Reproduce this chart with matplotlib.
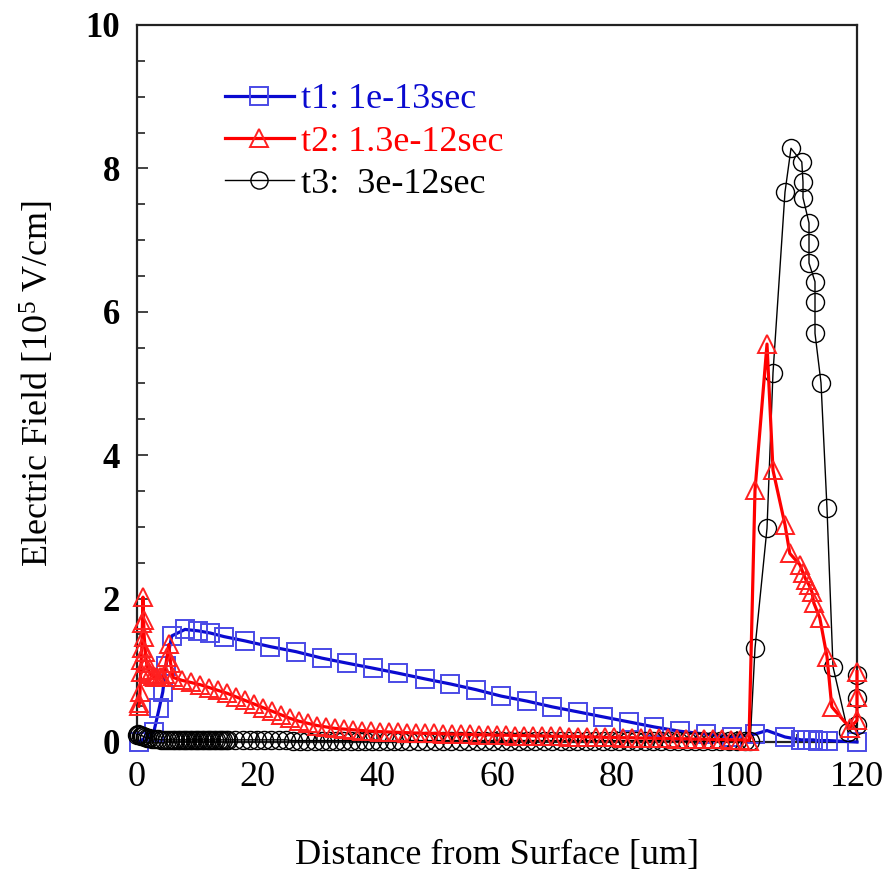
import matplotlib
matplotlib.use("Agg")
import matplotlib.pyplot as plt
from matplotlib.ticker import MultipleLocator

plt.rcParams['font.family'] = ['Liberation Serif', 'DejaVu Serif']
plt.rcParams['mathtext.fontset'] = 'custom'
plt.rcParams['mathtext.rm'] = 'Liberation Serif'
plt.rcParams['mathtext.it'] = 'Liberation Serif:italic'

# ---- data ----
labels = ["t1: 1e-13sec", "t2: 1.3e-12sec", "t3:  3e-12sec"]
xticks = [0, 20, 40, 60, 80, 100, 120]
yticks = [0, 2, 4, 6, 8, 10]

# t1 (blue squares)
x1 = [0.3, 2.8, 3.7, 4.3, 4.8, 5.8, 8.0, 10.2, 12.2, 14.5,
      18.0, 22.2, 26.5, 30.8, 35.0, 39.3, 43.5, 48.0, 52.2, 56.5,
      60.7, 65.0, 69.2, 73.5, 77.7, 82.0, 86.2, 90.5, 94.8, 99.2,
      103.0, 105.0, 108.0, 110.7, 111.7, 112.7, 113.5, 115.2, 120.0]
y1 = [0.00, 0.14, 0.47, 0.70, 1.06, 1.48, 1.57, 1.55, 1.52, 1.47,
      1.41, 1.33, 1.26, 1.17, 1.10, 1.03, 0.96, 0.88, 0.81, 0.73,
      0.64, 0.57, 0.49, 0.42, 0.35, 0.28, 0.21, 0.15, 0.11, 0.07,
      0.11, 0.16, 0.07, 0.03, 0.03, 0.03, 0.02, 0.02, 0.00]
t1_no_marker = [31]

# t2 (red triangles)
x2 = [0.3, 0.4, 0.5, 0.6, 0.7, 0.8, 0.9, 1.0, 1.1, 1.2,
      1.4, 1.6, 1.9, 2.2, 2.6, 3.0, 3.4, 3.8, 4.2, 4.6,
      5.0, 5.3, 5.6, 6.0,
      7.5, 9.0, 10.5, 12.0, 13.5, 15.0, 16.5, 18.0, 19.5, 21.0,
      22.5, 24.0, 25.5, 27.0, 28.5, 30.0, 31.5, 33.0, 34.5, 36.0,
      37.5, 39.0, 40.5, 42.0, 43.5, 45.0, 46.5, 48.0, 49.5, 51.0,
      52.5, 54.0, 55.5, 57.0, 58.5, 60.0, 61.5, 63.0, 64.5, 66.0,
      67.5, 69.0, 70.5, 72.0, 73.5, 75.0, 76.5, 78.0, 79.5, 81.0,
      82.5, 84.0, 85.5, 87.0, 88.5, 90.0, 91.5, 93.0, 94.5, 96.0,
      97.5, 99.0, 100.5, 102.0,
      103.0, 105.0, 106.0, 108.0, 108.8, 110.5, 111.0, 111.5, 112.0, 112.5,
      112.8, 113.8, 115.0, 115.8, 118.8, 120.0, 120.0, 120.0]
y2 = [0.50, 0.54, 0.70, 0.98, 1.14, 1.31, 1.66, 2.02, 1.70, 1.47,
      1.25, 1.10, 1.00, 0.95, 0.92, 0.91, 0.90, 0.90, 0.90, 0.95,
      1.19, 1.36, 1.10, 0.90,
      0.86, 0.83, 0.80, 0.76, 0.72, 0.68, 0.63, 0.58, 0.53, 0.48,
      0.43, 0.38, 0.33, 0.29, 0.26, 0.23, 0.21, 0.19, 0.18, 0.17,
      0.16, 0.15, 0.145, 0.14, 0.135, 0.13, 0.125, 0.12, 0.12, 0.115,
      0.11, 0.11, 0.105, 0.10, 0.10, 0.095, 0.095, 0.09, 0.09, 0.085,
      0.085, 0.08, 0.08, 0.075, 0.075, 0.07, 0.07, 0.065, 0.065, 0.06,
      0.06, 0.055, 0.055, 0.05, 0.05, 0.045, 0.045, 0.04, 0.04, 0.035,
      0.035, 0.03, 0.03, 0.02,
      3.51, 5.55, 3.79, 3.03, 2.63, 2.47, 2.36, 2.26, 2.19, 2.09,
      1.94, 1.73, 1.19, 0.49, 0.20, 0.30, 0.63, 0.98]

# t3 (black circles)
x3 = [0.0, 0.2, 0.4, 0.6, 0.8, 1.0, 1.3, 1.6, 2.0, 2.5,
      3.0, 3.5, 4.0, 4.5, 5.0, 5.5, 6.0, 6.4, 6.8, 7.2,
      7.6, 8.0, 8.4, 8.8, 9.2, 9.6, 10.0, 10.4, 10.8, 11.2,
      11.6, 12.0, 12.4, 12.8, 13.2, 13.6, 14.0, 14.4, 14.8, 15.2,
      16.4, 17.6, 18.8, 20.0, 21.2, 22.4, 23.6, 24.8, 26.0, 27.2,
      28.4, 29.6, 30.8, 32.0, 33.2, 34.4, 35.6, 36.8, 38.0, 39.2,
      40.4, 41.6, 42.8, 44.0, 45.4, 46.8, 48.2, 49.6, 51.0, 52.4,
      53.8, 55.2, 56.6, 58.0, 59.4, 60.8, 62.2, 63.6, 65.0, 66.4,
      67.8, 69.2, 70.6, 72.0, 73.4, 74.8, 76.2, 77.6, 79.0, 80.4,
      81.8, 83.2, 84.6, 86.0, 87.4, 88.8, 90.2, 91.6, 93.0, 94.4,
      95.8, 97.2, 98.6, 100.0, 101.4, 102.2,
      103.0, 105.0, 106.0, 108.0, 109.0, 110.8, 111.0, 111.0, 112.0, 112.0,
      112.0, 113.0, 113.0, 113.0, 114.0, 115.0, 116.0, 118.5, 120.0, 120.0,
      120.0]
y3 = [0.10, 0.11, 0.10, 0.09, 0.09, 0.08, 0.07, 0.06, 0.05, 0.04,
      0.04, 0.04, 0.03, 0.03, 0.03, 0.03, 0.03, 0.03, 0.03, 0.03,
      0.03, 0.03, 0.03, 0.03, 0.03, 0.03, 0.03, 0.03, 0.03, 0.03,
      0.03, 0.03, 0.03, 0.03, 0.03, 0.03, 0.03, 0.03, 0.03, 0.03,
      0.03, 0.03, 0.03, 0.03, 0.03, 0.03, 0.03, 0.03, 0.02, 0.02,
      0.02, 0.02, 0.02, 0.02, 0.02, 0.02, 0.02, 0.02, 0.02, 0.02,
      0.02, 0.02, 0.02, 0.02, 0.02, 0.02, 0.02, 0.02, 0.02, 0.02,
      0.02, 0.02, 0.02, 0.02, 0.02, 0.02, 0.02, 0.02, 0.02, 0.02,
      0.02, 0.02, 0.02, 0.02, 0.02, 0.02, 0.02, 0.02, 0.02, 0.02,
      0.02, 0.02, 0.02, 0.02, 0.02, 0.01, 0.01, 0.01, 0.01, 0.01,
      0.01, 0.01, 0.01, 0.01, 0.01, 0.01,
      1.31, 2.98, 5.15, 7.67, 8.28, 8.09, 7.81, 7.59, 7.24, 6.96,
      6.68, 6.42, 6.14, 5.70, 5.01, 3.26, 1.05, 0.14, 0.24, 0.62,
      0.93]

# ---- figure ----
fig = plt.figure(figsize=(8.85, 8.72), dpi=100)
ax = fig.add_axes([137/885, 1-742/872, 720/885, 717/872])

mark1 = [i for i in range(len(x1)) if i not in t1_no_marker]
l1, = ax.plot(x1, y1, color='#0a0ad0', lw=2.3, marker='s', ms=13.5,
              mfc='none', mec='#4a4ae6', mew=1.4, markevery=mark1, zorder=3,
              label=labels[0], clip_on=False)
l3, = ax.plot(x3, y3, color='black', lw=1.0, marker='o', ms=13,
              mfc='none', mec='black', mew=1.0, zorder=4, label=labels[2],
              clip_on=False)
l2, = ax.plot(x2, y2, color='#ff0000', lw=2.3, marker='^', ms=13,
              mfc='none', mec='#ff2020', mew=1.4, zorder=5, label=labels[1],
              clip_on=False)

ax.set_xlim(0, 120)
ax.set_ylim(0, 10)
ax.set_xticks(xticks)
ax.set_yticks(yticks)
ax.xaxis.set_minor_locator(MultipleLocator(10))
ax.yaxis.set_minor_locator(MultipleLocator(0.5))
ax.tick_params(which='both', direction='in', top=False, right=False,
               width=1.2, color='#222222')
ax.tick_params(which='major', length=8)
ax.tick_params(which='minor', length=6)
ax.tick_params(axis='x', labelsize=26, pad=14)
ax.tick_params(axis='y', labelsize=25, pad=12)
for t in ax.get_yticklabels():
    t.set_fontweight('bold')
for s in ax.spines.values():
    s.set_linewidth(1.6)
    s.set_color('#222222')

ax.set_xlabel('Distance from Surface [um]', fontsize=26, labelpad=32)
ax.set_ylabel('Electric Field [10$^5$ V/cm]', fontsize=26, labelpad=21)

leg = ax.legend(handles=[l1, l2, l3], loc='upper left',
                bbox_to_anchor=(0.097, 0.944), frameon=False, fontsize=26,
                handlelength=1.9, handletextpad=0.2, labelspacing=0.25,
                borderpad=0, numpoints=1, markerscale=0.95)
for txt, c in zip(leg.get_texts(), ['#0a0ad0', '#ff0000', 'black']):
    txt.set_color(c)

fig.savefig('out.png', dpi=100)
